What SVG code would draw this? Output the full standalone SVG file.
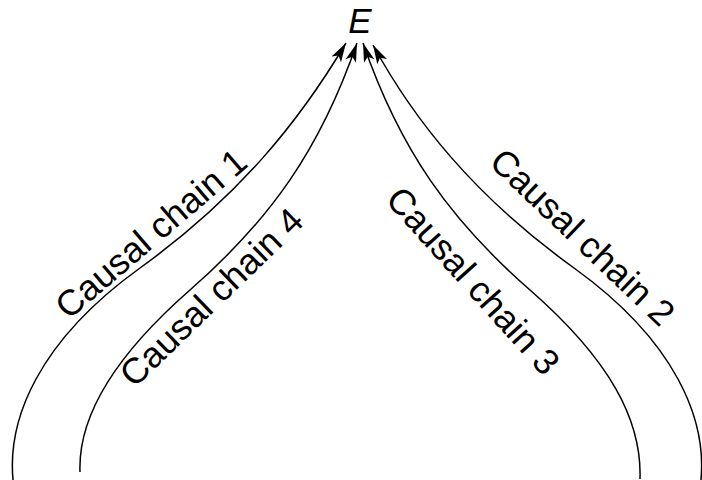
<svg xmlns="http://www.w3.org/2000/svg" width="702" height="480" viewBox="0 0 702 480">
<style>
  .edge { fill: none; stroke: #000; stroke-width: 1.5; marker-end: url(#arrow); }
  .lbl { font-family: "Liberation Sans", Arial, sans-serif; font-size: 36px; fill: #000; text-anchor: middle; }
  .node { font-family: "Liberation Sans", Arial, sans-serif; font-size: 35px; font-style: italic; fill: #000; text-anchor: middle; }
</style>
<defs>
  <marker id="arrow" markerUnits="userSpaceOnUse" viewBox="-20 -7 21 14" markerWidth="21" markerHeight="14" refX="0" refY="0" orient="auto">
    <path d="M0,0 L-19,-5.5 L-14.5,0 L-19,5.5 Z" fill="#000"/>
  </marker>
</defs>
<rect width="702" height="480" fill="#fff"/>
<g id="E"><text class="node" x="360" y="33">E</text></g>
<g id="connectors">
  <path id="chain1" class="edge" d="M14,488 C4,420 40,340 140,268 C240,196 300,120 346,43"/>
  <path id="chain4" class="edge" d="M80,472 C78,420 110,360 190,290 C270,220 320,150 357,43"/>
  <path id="chain3" class="edge" d="M640,479 C642,420 610,360 530,290 C450,220 400,150 363,43"/>
  <path id="chain2" class="edge" d="M700,488 C710,420 674,340 574,268 C474,196 414,120 373,45"/>
</g>
<g id="label1"><text class="lbl" transform="translate(159,243) rotate(-40.6)">Causal chain 1</text></g>
<g id="label4"><text class="lbl" transform="translate(220,306) rotate(-44)">Causal chain 4</text></g>
<g id="label2"><text class="lbl" transform="translate(574,246) rotate(43.6)">Causal chain 2</text></g>
<g id="label3"><text class="lbl" transform="translate(464,289) rotate(48)">Causal chain 3</text></g>
</svg>
